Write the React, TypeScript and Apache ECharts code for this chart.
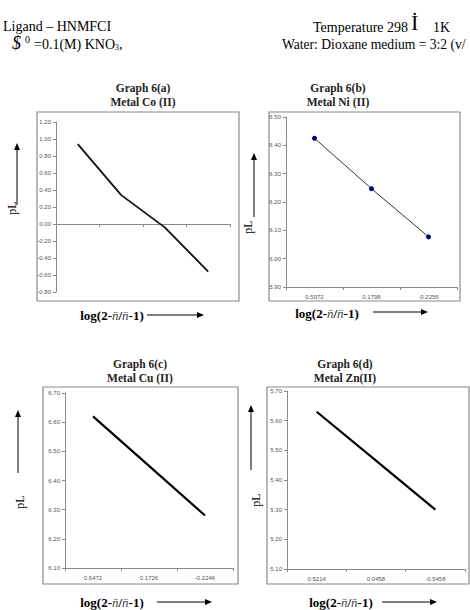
import React, { useEffect, useRef } from "react";
import * as echarts from "echarts";

// ---- data ----
const coCategories = ["1", "2", "3", "4"];
const coValues = [0.94, 0.34, -0.04, -0.56];
const niCategories = ["0.5972", "0.1798", "-0.2256"];
const niValues = [6.425, 6.247, 6.077];
const cuCategories = ["0.6472", "0.1726", "-0.2246"];
const cuValues = [6.62, 6.45, 6.28];
const znCategories = ["0.5214", "0.0458", "-0.5458"];
const znValues = [5.63, 5.465, 5.3];

// y tick values (labels shown with two decimals)
const coTicks = [-0.8, -0.6, -0.4, -0.2, 0, 0.2, 0.4, 0.6, 0.8, 1.0, 1.2];
const niTicks = [5.9, 6.0, 6.1, 6.2, 6.3, 6.4, 6.5];
const cuTicks = [6.1, 6.2, 6.3, 6.4, 6.5, 6.6, 6.7];
const znTicks = [5.1, 5.2, 5.3, 5.4, 5.5, 5.6, 5.7];

const titles = [
  "Graph 6(a)\nMetal Co (II)",
  "Graph 6(b)\nMetal Ni (II)",
  "Graph 6(c)\nMetal Cu (II)",
  "Graph 6(d)\nMetal Zn(II)",
];

const SERIF = "'Liberation Serif', 'Times New Roman', serif";
const SANS = "'Liberation Sans', Arial, sans-serif";
const GRAY = "#8a8a8a";

function arrowH(x1: number, x2: number, y: number) {
  return [
    { type: "line", shape: { x1, y1: y, x2: x2 - 6, y2: y }, style: { stroke: "#000", lineWidth: 1 } },
    { type: "polygon", shape: { points: [[x2, y], [x2 - 7, y - 3], [x2 - 7, y + 3]] }, style: { fill: "#000" } },
  ];
}
function arrowV(x: number, yBottom: number, yTop: number) {
  return [
    { type: "line", shape: { x1: x, y1: yBottom, x2: x, y2: yTop + 6 }, style: { stroke: "#000", lineWidth: 1 } },
    { type: "polygon", shape: { points: [[x, yTop], [x - 3, yTop + 7], [x + 3, yTop + 7]] }, style: { fill: "#000" } },
  ];
}
function box(x1: number, y1: number, x2: number, y2: number) {
  return {
    type: "rect",
    shape: { x: x1, y: y1, width: x2 - x1, height: y2 - y1 },
    style: { fill: "none", stroke: GRAY, lineWidth: 1.2 },
    z: -1,
  };
}
function xLabel(cx: number, y: number) {
  return {
    type: "text",
    x: cx,
    y,
    style: {
      text: "{b|log(2-}{n|n\u0304}{b|/}{n|n\u0304}{b|-1)}",
      align: "center",
      verticalAlign: "middle",
      rich: {
        b: { fontFamily: SERIF, fontWeight: "bold", fontSize: 13, fill: "#000" },
        n: { fontFamily: SERIF, fontStyle: "italic", fontSize: 13, fill: "#444" },
      },
    },
  };
}
function pL(x: number, y: number) {
  return {
    type: "text",
    x,
    y,
    rotation: Math.PI / 2,
    style: { text: "pL", fontFamily: SERIF, fontSize: 12, fill: "#000", align: "center", verticalAlign: "middle" },
  };
}
function titleText(cx: number, y: number, t: string) {
  return {
    type: "text",
    x: cx,
    y,
    style: {
      text: t,
      fontFamily: SERIF,
      fontWeight: "bold",
      fontSize: 11.5,
      lineHeight: 14,
      fill: "#222",
      align: "center",
      verticalAlign: "top",
    },
  };
}

function yAxis(idx: number, ticks: number[]) {
  return {
    type: "value",
    gridIndex: idx,
    min: ticks[0],
    max: ticks[ticks.length - 1],
    axisLine: { show: true, lineStyle: { color: GRAY, width: 1 } },
    axisTick: { show: true, length: 3, lineStyle: { color: GRAY }, customValues: ticks },
    splitLine: { show: false },
    axisLabel: {
      fontSize: 6,
      color: "#555",
      fontFamily: SANS,
      margin: 5,
      customValues: ticks,
      formatter: (v: number) => v.toFixed(2),
    },
  };
}
function xAxis(idx: number, cats: string[], showLabels: boolean) {
  return {
    type: "category",
    gridIndex: idx,
    data: cats,
    boundaryGap: true,
    axisLine: { show: true, onZero: true, lineStyle: { color: GRAY, width: 1.2 } },
    axisTick: { show: true, length: 3, lineStyle: { color: GRAY } },
    splitLine: { show: false },
    axisLabel: { show: showLabels, interval: 0, fontSize: 6, color: "#555", fontFamily: SANS, margin: 7 },
  };
}

export default function App() {
  const ref = useRef<HTMLDivElement>(null);
  useEffect(() => {
    if (!ref.current) return;
    const chart = echarts.init(ref.current, null, { renderer: "svg" });
    const graphic: any[] = [
      // header
      { type: "text", x: 3, y: 26, style: { text: "Ligand \u2013 HNMFCI", fontFamily: SERIF, fontSize: 14, fill: "#000", verticalAlign: "middle" } },
      { type: "text", x: 313, y: 27, style: { text: "Temperature 298", fontFamily: SERIF, fontSize: 14, fill: "#000", verticalAlign: "middle" } },
      { type: "text", x: 411, y: 33, style: { text: "\u0130", fontFamily: SERIF, fontSize: 22, fill: "#000", verticalAlign: "bottom" } },
      { type: "text", x: 433, y: 27, style: { text: "1K", fontFamily: SERIF, fontSize: 14, fill: "#000", verticalAlign: "middle" } },
      { type: "text", x: 12, y: 52, style: { text: "$", fontFamily: SERIF, fontStyle: "italic", fontSize: 18, fill: "#000", verticalAlign: "bottom" } },
      { type: "text", x: 25, y: 34, style: { text: "0", fontFamily: SERIF, fontSize: 10, fill: "#000", verticalAlign: "top" } },
      {
        type: "text",
        x: 34,
        y: 44,
        style: {
          text: "{a|=0.1(M) KNO}{s|3}{a|,}",
          verticalAlign: "middle",
          rich: {
            a: { fontFamily: SERIF, fontSize: 14, fill: "#000" },
            s: { fontFamily: SERIF, fontSize: 8, fill: "#000", padding: [6, 0, 0, 0] },
          },
        },
      },
      { type: "text", x: 282, y: 44, style: { text: "Water: Dioxane medium = 3:2 (v/", fontFamily: SERIF, fontSize: 13.6, fill: "#000", verticalAlign: "middle" } },
      // boxes
      box(37, 112, 239, 301),
      box(269, 112, 460, 301),
      box(43, 387, 238, 584),
      box(267, 387, 469, 584),
      // titles
      titleText(143, 81, titles[0]),
      titleText(338, 81, titles[1]),
      titleText(140, 357, titles[2]),
      titleText(345, 357, titles[3]),
      // y labels + arrows
      pL(12, 208),
      ...arrowV(17, 205, 143),
      pL(248, 227),
      ...arrowV(254, 217, 153),
      pL(20, 502),
      ...arrowV(18, 473, 410),
      pL(256, 500),
      ...arrowV(251, 470, 405),
      // x labels + arrows
      xLabel(112, 315),
      ...arrowH(147, 204, 315),
      xLabel(327, 313),
      ...arrowH(373, 428, 312),
      xLabel(112, 602),
      ...arrowH(157, 212, 602),
      xLabel(341, 602),
      ...arrowH(382, 437, 602),
    ];

    chart.setOption({
      animation: false,
      backgroundColor: "#fff",
      grid: [
        { left: 56, top: 122, width: 174, height: 170 },
        { left: 286, top: 117, width: 171, height: 170 },
        { left: 65, top: 393, width: 168, height: 175 },
        { left: 287, top: 391, width: 178, height: 178 },
      ],
      xAxis: [
        xAxis(0, coCategories, false),
        xAxis(1, niCategories, true),
        xAxis(2, cuCategories, true),
        xAxis(3, znCategories, true),
      ],
      yAxis: [yAxis(0, coTicks), yAxis(1, niTicks), yAxis(2, cuTicks), yAxis(3, znTicks)],
      series: [
        {
          type: "line",
          xAxisIndex: 0,
          yAxisIndex: 0,
          data: coValues,
          showSymbol: false,
          lineStyle: { color: "#111", width: 1.8 },
        },
        {
          type: "line",
          xAxisIndex: 1,
          yAxisIndex: 1,
          data: niValues,
          symbol: "circle",
          symbolSize: 5,
          itemStyle: { color: "#000080" },
          lineStyle: { color: "#333", width: 1 },
        },
        {
          type: "line",
          xAxisIndex: 2,
          yAxisIndex: 2,
          data: cuValues,
          showSymbol: false,
          lineStyle: { color: "#000", width: 2.2 },
        },
        {
          type: "line",
          xAxisIndex: 3,
          yAxisIndex: 3,
          data: znValues,
          showSymbol: false,
          lineStyle: { color: "#000", width: 2.2 },
        },
      ],
      graphic,
    });
    return () => chart.dispose();
  }, []);
  return (
    <div
      ref={ref}
      style={{ position: "fixed", left: 0, top: 0, width: 470, height: 610, background: "#fff" }}
    />
  );
}
